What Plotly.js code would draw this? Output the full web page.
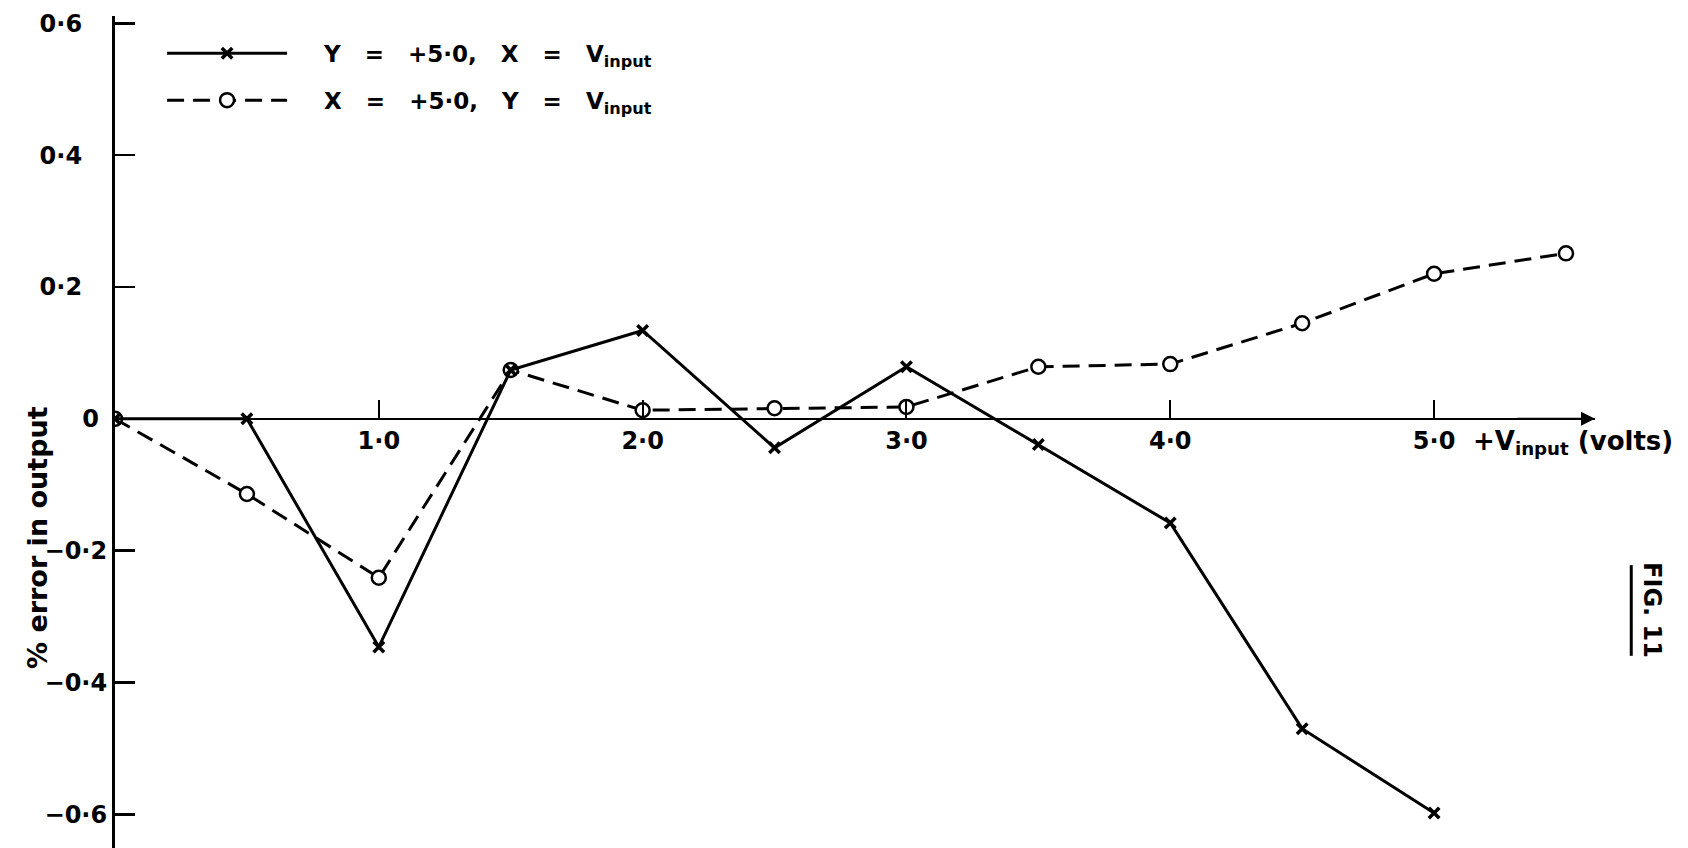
<!DOCTYPE html>
<html>
<head>
<meta charset="utf-8">
<script src="https://cdn.plot.ly/plotly-3.0.1.min.js"></script>
<style>
  html, body { margin: 0; padding: 0; background: #fff; }
  #chart { width: 1688px; height: 848px; }
</style>
</head>
<body>
<div id="chart"></div>
<script>
// Input voltage steps (volts)
const vInputA = [0, 0.5, 1.0, 1.5, 2.0, 2.5, 3.0, 3.5, 4.0, 4.5, 5.0];
const vInputB = [0, 0.5, 1.0, 1.5, 2.0, 2.5, 3.0, 3.5, 4.0, 4.5, 5.0, 5.5];

// % error in output with Y = +5.0, X = Vinput
const errYFixed = [0, 0.0, -0.346, 0.074, 0.134, -0.044, 0.079, -0.039, -0.158, -0.470, -0.598];
// % error in output with X = +5.0, Y = Vinput
const errXFixed = [0, -0.114, -0.241, 0.074, 0.013, 0.016, 0.018, 0.079, 0.083, 0.145, 0.220, 0.251];

const NB = '\u00a0';
const gap = NB.repeat(3);
const lead = NB.repeat(4);
const seriesNames = [
  lead + 'Y' + gap + '=' + gap + '+5·0,' + gap + 'X' + gap + '=' + gap + 'V<sub>input</sub>',
  lead + 'X' + gap + '=' + gap + '+5·0,' + gap + 'Y' + gap + '=' + gap + 'V<sub>input</sub>'
];

const xTickVals = [1, 2, 3, 4, 5];
const xTickText = ['1·0', '2·0', '3·0', '4·0', '5·0'];
const yTickVals = [-0.6, -0.4, -0.2, 0, 0.2, 0.4, 0.6];
// positive labels keep the column's left edge shared with the signed ones
const yTickText = ['−0·6', '−0·4', '−0·2', '0' + NB, '0·2' + NB + NB + NB, '0·4' + NB + NB + NB, '0·6' + NB + NB + NB];

const xRange = [0, 5.61];
const yRange = [-0.651, 0.611];

const FAMILY = 'DejaVu Sans, sans-serif';
const FONT = { family: FAMILY, size: 24, color: '#000', weight: 700 };
const INK = '#000';

// circles first so the crosses sit inside them where both series coincide
const traceX = {
  x: vInputB, y: errXFixed, name: seriesNames[1], legendrank: 2, legendgroup: 'b',
  type: 'scatter', mode: 'lines+markers',
  line: { color: INK, width: 3, dash: '17px,9px' },
  marker: { symbol: 'circle', size: 14, color: '#fff', line: { color: INK, width: 2.5 } }
};
const traceY = {
  x: vInputA, y: errYFixed, name: seriesNames[0], legendrank: 1, legendgroup: 'a',
  type: 'scatter', mode: 'lines+markers',
  line: { color: INK, width: 3 },
  marker: { symbol: 'x-thin', size: 10.5, color: INK, line: { color: INK, width: 3.5 } }
};

const layout = {
  width: 1688, height: 848,
  paper_bgcolor: '#fff', plot_bgcolor: '#fff',
  margin: { l: 115, r: 93, t: 16, b: 0 },
  font: FONT,
  showlegend: true,
  legend: {
    x: 0.0318, y: 0.981, xanchor: 'left', yanchor: 'top',
    bgcolor: 'rgba(0,0,0,0)', font: { family: FAMILY, size: 23, color: INK, weight: 700 },
    itemwidth: 120, tracegroupgap: 14
  },
  xaxis: {
    range: xRange, anchor: 'free',
    position: (0 - yRange[0]) / (yRange[1] - yRange[0]),
    showline: true, linecolor: INK, linewidth: 2,
    ticks: 'inside', ticklen: 18, tickwidth: 2, tickcolor: INK,
    tickvals: xTickVals, ticktext: xTickText, tickfont: FONT,
    showgrid: false, zeroline: false, fixedrange: true
  },
  yaxis: {
    range: yRange,
    showline: true, linecolor: INK, linewidth: 3,
    ticks: 'inside', ticklen: 20, tickwidth: 2.5, tickcolor: INK,
    tickvals: yTickVals, ticktext: yTickText, tickfont: FONT,
    showgrid: false, zeroline: false, fixedrange: true
  },
  annotations: [
    { // arrowhead closing the voltage axis
      x: xRange[1], y: 0, ax: xRange[1] - 0.3, ay: 0,
      xref: 'x', yref: 'y', axref: 'x', ayref: 'y',
      text: '', showarrow: true, arrowhead: 2, arrowsize: 1.4, arrowwidth: 2, arrowcolor: INK
    },
    {
      text: '+V<sub>input</sub> (volts)', xref: 'paper', yref: 'paper',
      x: 0.916, y: 0.487, xanchor: 'left', yanchor: 'middle', showarrow: false,
      font: { family: FAMILY, size: 26, color: INK, weight: 700 }
    },
    {
      text: '% error in output', xref: 'paper', yref: 'paper',
      x: -0.052, y: 0.3726, xanchor: 'center', yanchor: 'middle', textangle: -90,
      showarrow: false, font: { family: FAMILY, size: 27, color: INK, weight: 700 }
    },
    {
      text: 'FIG. 11', xref: 'paper', yref: 'paper',
      x: 1.0385, y: 0.286, xanchor: 'center', yanchor: 'middle', textangle: 90,
      showarrow: false, font: FONT
    }
  ],
  shapes: [
    { // underline of the figure number
      type: 'line', xref: 'paper', yref: 'paper',
      x0: 1.0245, x1: 1.0245, y0: 0.231, y1: 0.340,
      line: { color: INK, width: 3 }
    }
  ]
};

Plotly.newPlot('chart', [traceX, traceY], layout, { staticPlot: true, displayModeBar: false });
</script>
</body>
</html>
